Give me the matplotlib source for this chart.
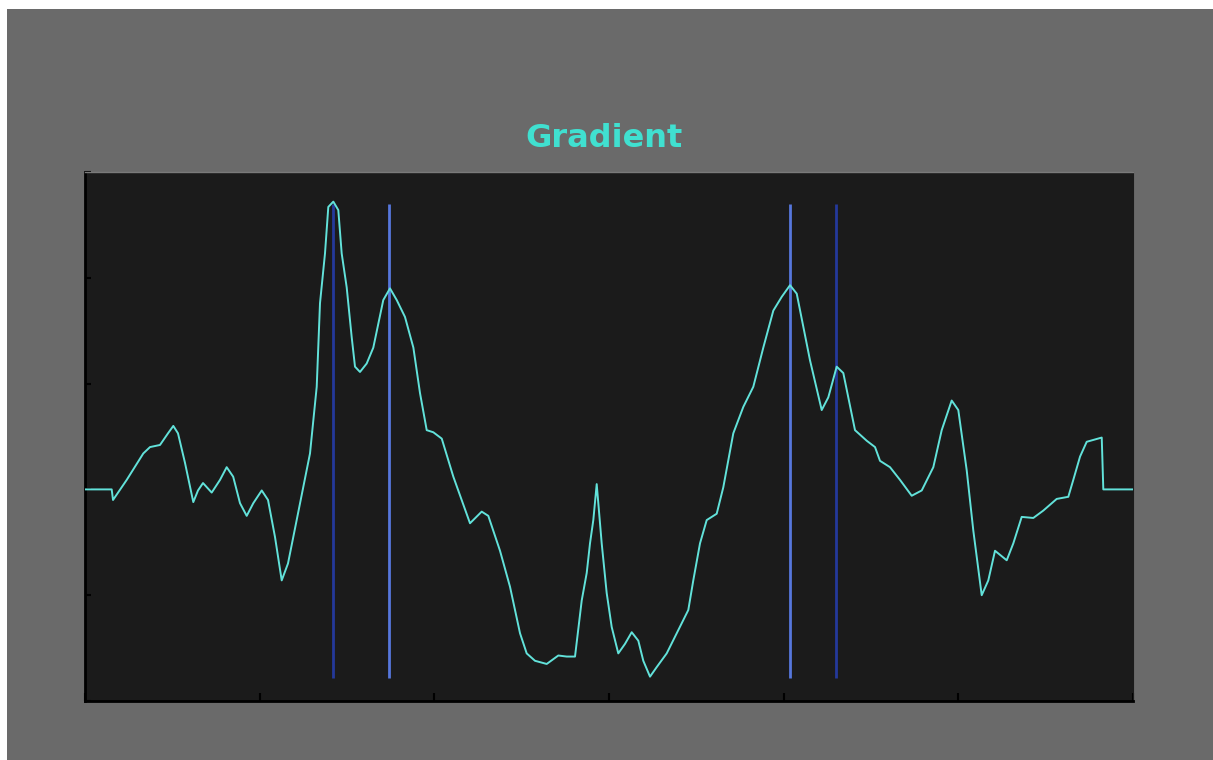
import numpy as np
import matplotlib
matplotlib.use("Agg")
from matplotlib import pyplot as plt
from matplotlib.patches import Rectangle

# gradient curve (x: 0..300, y: -2..3)
grad_x = [0.0, 7.64, 8.02, 11.94, 16.69, 18.61, 21.47, 23.76, 25.28, 26.62,
          28.63, 31.0, 32.35, 33.78, 36.27, 38.65, 40.56, 42.42, 44.37, 46.29,
          48.18, 50.59, 52.39, 54.39, 56.31, 58.11, 61.55, 64.41, 66.33, 67.27,
          68.70, 69.65, 71.08, 72.51, 73.48, 74.91, 76.34, 77.29, 78.72, 80.64,
          82.53, 85.39, 87.31, 89.23, 91.60, 94.0, 95.90, 97.82, 99.71, 102.12,
          105.44, 110.21, 113.56, 115.45, 118.80, 121.66, 124.53, 126.44, 128.82, 132.17,
          135.49, 137.89, 140.27, 142.19, 143.62, 144.56, 145.51, 146.48, 147.91, 149.34,
          150.77, 152.66, 154.58, 156.50, 158.39, 159.82, 161.74, 163.65, 166.52, 169.38,
          172.70, 174.13, 176.05, 177.97, 180.83, 182.72, 185.58, 188.45, 191.31, 194.17,
          197.04, 199.44, 201.82, 203.74, 207.54, 210.89, 212.78, 215.18, 217.07, 220.42,
          223.77, 226.15, 227.58, 230.44, 233.30, 236.65, 239.52, 242.84, 245.24, 248.10,
          249.99, 252.40, 254.29, 256.69, 258.58, 260.50, 263.85, 265.74, 268.14, 271.46,
          274.33, 278.16, 281.48, 282.91, 284.84, 286.75, 291.05, 291.50, 300.0]
grad_y = [0.0, 0.0, -0.10, 0.09, 0.34, 0.40, 0.42, 0.53, 0.60, 0.53,
          0.25, -0.12, -0.01, 0.06, -0.03, 0.09, 0.21, 0.12, -0.13, -0.25,
          -0.13, -0.01, -0.10, -0.45, -0.86, -0.70, -0.13, 0.34, 0.97, 1.76,
          2.23, 2.67, 2.72, 2.64, 2.23, 1.91, 1.44, 1.16, 1.11, 1.19,
          1.34, 1.79, 1.90, 1.79, 1.63, 1.34, 0.91, 0.56, 0.54, 0.48,
          0.12, -0.32, -0.21, -0.25, -0.58, -0.92, -1.36, -1.55, -1.62, -1.65,
          -1.57, -1.58, -1.58, -1.05, -0.79, -0.51, -0.29, 0.05, -0.51, -0.98,
          -1.30, -1.55, -1.46, -1.35, -1.43, -1.62, -1.77, -1.68, -1.55, -1.36,
          -1.14, -0.86, -0.51, -0.29, -0.23, 0.02, 0.53, 0.78, 0.97, 1.34,
          1.69, 1.82, 1.93, 1.85, 1.22, 0.75, 0.87, 1.16, 1.10, 0.56,
          0.46, 0.40, 0.27, 0.21, 0.09, -0.06, -0.01, 0.21, 0.56, 0.84,
          0.75, 0.18, -0.39, -1.00, -0.86, -0.58, -0.67, -0.51, -0.26, -0.27,
          -0.20, -0.09, -0.07, 0.09, 0.31, 0.45, 0.49, 0.0, 0.0]

# vertical marker lines
mark_x = [70.99, 87.02, 201.82, 214.99]
mark_col = ["#24399a", "#5677dc", "#5677dc", "#24399a"]
mark_lo, mark_hi = -1.78, 2.70

fig = plt.figure(figsize=(12.13, 7.6), dpi=100, facecolor="white")
bg = Rectangle((7 / 1213, 0), 1 - 7 / 1213, 751 / 760,
               transform=fig.transFigure, facecolor="#6a6a6a",
               edgecolor="none", zorder=-10)
fig.add_artist(bg)

ax = fig.add_axes([85 / 1213, 59 / 760, 1048 / 1213, 529 / 760], zorder=1)
ax.set_facecolor("#1b1b1b")

for x, c in zip(mark_x, mark_col):
    ax.vlines(x, mark_lo, mark_hi, colors=c, linewidth=2.0, zorder=2)

ax.plot(grad_x, grad_y, color="#62e2da", linewidth=1.4, zorder=3)

ax.set_xlim(0, 300)
ax.set_ylim(-2, 3)
ax.set_xticks(np.arange(0, 301, 50))
ax.set_yticks(np.arange(-2, 4, 1))
ax.set_xticklabels([])
ax.set_yticklabels([])
ax.tick_params(direction="in", color="black", width=1.5, length=6)
ax.tick_params(axis="y", length=4)

for s in ["bottom", "left"]:
    ax.spines[s].set_color("black")
    ax.spines[s].set_linewidth(2)
ax.spines["top"].set_color("#7a7a7a")
ax.spines["top"].set_linewidth(1)
ax.spines["right"].set_color("#1b1b1b")

fig.text(604 / 1213, 1 - 147 / 760, "Gradient", ha="center", va="baseline",
         color="#40e0d0", fontsize=23, fontweight="bold", family="DejaVu Sans",
         zorder=2)

plt.savefig("out.png", dpi=100, facecolor=fig.get_facecolor())
